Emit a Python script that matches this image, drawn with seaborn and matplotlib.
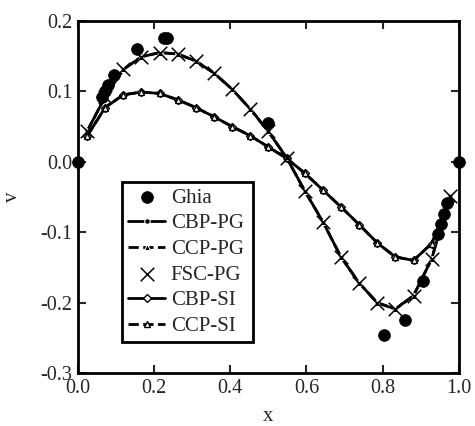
import numpy as np
import pandas as pd
import matplotlib
matplotlib.use("Agg")
import matplotlib.pyplot as plt
import seaborn as sns

# ---- data ----
ghia_x = [0.0, 0.0625, 0.0703, 0.0781, 0.0938, 0.1563, 0.2266, 0.2344, 0.5000,
          0.8047, 0.8594, 0.9063, 0.9453, 0.9531, 0.9609, 0.9688, 1.0]
ghia_v = [0.0, 0.09233, 0.10091, 0.10890, 0.12317, 0.16077, 0.17507, 0.17527, 0.05454,
          -0.24533, -0.22445, -0.16914, -0.10313, -0.08864, -0.07391, -0.05906, 0.0]

sim_x = [0.0238, 0.0714, 0.1190, 0.1667, 0.2143, 0.2619, 0.3095, 0.3571, 0.4048, 0.4524,
         0.5000, 0.5476, 0.5952, 0.6429, 0.6905, 0.7381, 0.7857, 0.8333, 0.8810, 0.9286, 0.9762]
pg_v = [0.043, 0.092, 0.131, 0.149, 0.155, 0.153, 0.143, 0.126, 0.103, 0.075,
        0.043, 0.006, -0.041, -0.085, -0.135, -0.172, -0.200, -0.209, -0.190, -0.138, -0.048]
si_v = [0.036, 0.077, 0.095, 0.099, 0.097, 0.088, 0.077, 0.064, 0.050, 0.037,
        0.021, 0.005, -0.016, -0.040, -0.064, -0.089, -0.115, -0.135, -0.140, -0.116, -0.055]

x_ticks = [0.0, 0.2, 0.4, 0.6, 0.8, 1.0]
y_ticks = [-0.3, -0.2, -0.1, 0.0, 0.1, 0.2]

sns.set_style("ticks")
plt.rcParams['font.family'] = ['Liberation Serif', 'DejaVu Serif']

fig = plt.figure(figsize=(4.75, 4.26), dpi=100)
ax = fig.add_axes([0.164, 0.124, 0.802, 0.827])

lw = 2.0
sns.scatterplot(x=ghia_x, y=ghia_v, ax=ax, color='k', marker='o', s=70,
                edgecolor='k', label='Ghia', zorder=5, clip_on=False)
sns.lineplot(x=sim_x, y=pg_v, ax=ax, color='k', linestyle='-', linewidth=lw,
             marker='o', markersize=4, label='CBP-PG', zorder=3)
sns.lineplot(x=sim_x, y=pg_v, ax=ax, color='k', linestyle='--', linewidth=lw,
             dashes=(3, 1), marker='^', markersize=4, label='CCP-PG', zorder=3)
sns.scatterplot(x=sim_x, y=pg_v, ax=ax, color='k', marker='x', s=95,
                linewidth=1.1, label='FSC-PG', zorder=4)
sns.lineplot(x=sim_x, y=si_v, ax=ax, color='k', linestyle='-', linewidth=lw,
             marker='D', markersize=4.5, markerfacecolor='white', markeredgecolor='k',
             markeredgewidth=1.0, label='CBP-SI', zorder=3)
sns.lineplot(x=sim_x, y=si_v, ax=ax, color='k', linestyle='--', linewidth=lw,
             dashes=(3, 1), marker='^', markersize=5, markerfacecolor='white',
             markeredgecolor='k', markeredgewidth=1.0, label='CCP-SI', zorder=3)

ax.set_xlim(0, 1)
ax.set_ylim(-0.3, 0.2)
ax.set_xticks(x_ticks)
ax.set_yticks(y_ticks)
ax.set_xticklabels([f"{t:.1f}" for t in x_ticks])
ax.set_yticklabels([f"{t:.1f}" for t in y_ticks])
ax.tick_params(direction='in', top=True, right=True, length=6, width=1.5,
               labelsize=14.5, pad=4)
for sp in ax.spines.values():
    sp.set_linewidth(2.0)
    sp.set_color('k')
ax.set_xlabel('x', fontsize=15, labelpad=7)
ax.set_ylabel('v', fontsize=15, labelpad=13)

leg = ax.legend(loc='lower left', bbox_to_anchor=(0.115, 0.088, 0.345, 0.452),
                mode='expand', fontsize=15, frameon=True, fancybox=False,
                edgecolor='k', framealpha=1, handlelength=1.8, labelspacing=0.29,
                borderpad=0.3, handletextpad=0.25, borderaxespad=0)
leg.get_frame().set_linewidth(2.0)

fig.savefig('out.png', dpi=100)
